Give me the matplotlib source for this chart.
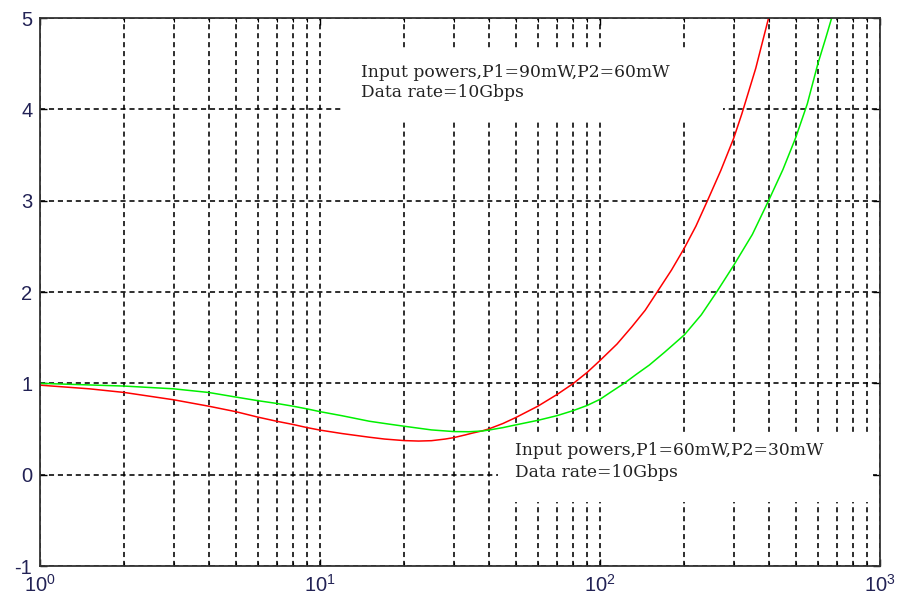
import matplotlib
matplotlib.use("Agg")
import matplotlib.pyplot as plt
from matplotlib.patches import Rectangle
from matplotlib.ticker import LogLocator, NullFormatter

# ---- data ----
red_x = [1, 1.5, 2, 3, 4, 5, 6, 7, 8, 9, 10, 12, 15, 17, 20, 22.5, 25, 28, 30,
         33, 35, 38, 40, 45, 50, 60, 70, 80, 90, 100, 115, 130, 145, 160, 180,
         200, 220, 242, 270, 300, 321, 360, 400]
red_y = [0.98, 0.94, 0.90, 0.82, 0.75, 0.69, 0.63, 0.585, 0.55, 0.515, 0.488,
         0.45, 0.41, 0.39, 0.373, 0.368, 0.372, 0.39, 0.405, 0.435, 0.455, 0.48,
         0.50, 0.56, 0.625, 0.75, 0.875, 0.995, 1.12, 1.25, 1.43, 1.62, 1.80,
         2.0, 2.24, 2.48, 2.72, 3.0, 3.33, 3.68, 3.95, 4.45, 5.0]

green_x = [1, 2, 3, 4, 5, 6, 7, 8, 9, 10, 12, 15, 17.5, 20, 25, 30, 34, 38, 40,
           45, 50, 60, 70, 80, 90, 100, 110, 122, 135, 150, 170, 200, 230, 261,
           300, 350, 400, 450, 500, 550, 600, 640, 672]
green_y = [1.0, 0.97, 0.94, 0.90, 0.85, 0.81, 0.78, 0.75, 0.72, 0.69, 0.645,
           0.585, 0.555, 0.53, 0.49, 0.472, 0.47, 0.478, 0.488, 0.515, 0.545,
           0.595, 0.645, 0.70, 0.758, 0.825, 0.91, 1.0, 1.1, 1.2, 1.34, 1.53,
           1.75, 2.0, 2.29, 2.63, 3.0, 3.34, 3.69, 4.06, 4.5, 4.78, 5.0]

xticks = [1, 10, 100, 1000]
xticklabels = [r'$\mathregular{10^{0}}$', r'$\mathregular{10^{1}}$',
               r'$\mathregular{10^{2}}$', r'$\mathregular{10^{3}}$']
yticks = [-1, 0, 1, 2, 3, 4, 5]
yticklabels = ['-1', '0', '1', '2', '3', '4', '5']

note_top = ['Input powers,P1=90mW,P2=60mW', 'Data rate=10Gbps']
note_bottom = ['Input powers,P1=60mW,P2=30mW', 'Data rate=10Gbps']

# ---- figure ----
plt.rcParams['font.family'] = ['Liberation Sans', 'DejaVu Sans']
plt.rcParams['mathtext.fontset'] = 'custom'
plt.rcParams['mathtext.rm'] = 'Liberation Sans'

fig = plt.figure(figsize=(8.99, 6.02), dpi=100)
ax = fig.add_axes([40/899, 36/602, 840/899, 548/602])
ax.set_xscale('log')
ax.set_xlim(1, 1000)
ax.set_ylim(-1, 5)

ax.set_axisbelow(True)
grid_ls = (0, (3.2, 2.4))
ax.grid(True, which='major', axis='both', color='black', linestyle=grid_ls, linewidth=1.15)
ax.grid(True, which='minor', axis='x', color='black', linestyle=grid_ls, linewidth=1.15)

# white backgrounds behind the annotations (hide grid)
ax.add_patch(Rectangle((0.361, 0.814), 0.452, 0.131, transform=ax.transAxes,
                       facecolor='white', edgecolor='none', zorder=1.6))
ax.add_patch(Rectangle((0.545, 0.117), 0.447, 0.128, transform=ax.transAxes,
                       facecolor='white', edgecolor='none', zorder=1.6))

ax.plot(red_x, red_y, color='#ff0000', linewidth=1.1, zorder=3)
ax.plot(green_x, green_y, color='#00f000', linewidth=1.1, zorder=3)

ax.set_xticks(xticks)
ax.set_xticklabels(xticklabels)
ax.xaxis.set_minor_locator(LogLocator(base=10, subs=range(2, 10)))
ax.xaxis.set_minor_formatter(NullFormatter())
ax.set_yticks(yticks)
ax.set_yticklabels(yticklabels)

lab_color = '#222255'
ax.tick_params(axis='both', which='major', direction='in', length=5, width=1.0,
               top=True, right=True, labelsize=14.5, labelcolor=lab_color)
ax.tick_params(axis='x', which='major', pad=6)
ax.tick_params(axis='y', which='major', pad=5.5)
ax.tick_params(axis='x', which='minor', direction='in', length=3, width=0.8,
               top=True, bottom=True)

for sp in ax.spines.values():
    sp.set_color('#333333')
    sp.set_linewidth(1.3)
    sp.set_zorder(4)

txt_kw = dict(transform=ax.transAxes, family=['DejaVu Serif'], fontsize=12.3,
              color='#222222', va='baseline', ha='left', zorder=5)
ax.text(0.382, 0.892, note_top[0], **txt_kw)
ax.text(0.382, 0.856, note_top[1], **txt_kw)
ax.text(0.5655, 0.2026, note_bottom[0], **txt_kw)
ax.text(0.5655, 0.1624, note_bottom[1], **txt_kw)

fig.savefig('out.png', dpi=100)
